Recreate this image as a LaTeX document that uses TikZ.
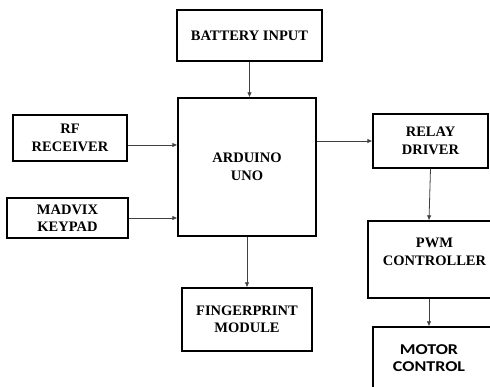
\documentclass[tikz,border=0pt]{standalone}
\usepackage{fontspec}
\setmainfont{Liberation Serif}
\newfontfamily\boxfont{Liberation Serif}
\newfontfamily\motorfont{Carlito}[FakeStretch=1.2]
\usetikzlibrary{arrows.meta}

\begin{document}
\begin{tikzpicture}[x=1pt, y=-1pt,
    box/.style={draw, line width=1.3pt, inner sep=0pt, align=center,
      font=\fontsize{14.5}{17.5}\selectfont\boxfont\bfseries},
    link/.style={draw=black!75, line width=0.8pt, -{Latex[length=5pt,width=4.5pt]}}]
  \useasboundingbox (0,0) rectangle (490,387);
  \clip (0,0) rectangle (490,387);

  \node[box, minimum width=145pt, minimum height=51pt] (battery) at (249.5,35.5) {BATTERY INPUT};
  \node[box, minimum width=138pt, minimum height=138pt] (arduino) at (247,167) {ARDUINO\\UNO};
  \node[box, minimum width=114pt, minimum height=46pt] (rf) at (70,138) {RF\\RECEIVER};
  \node[box, minimum width=121pt, minimum height=40pt] (madvix) at (67.5,218) {MADVIX\\KEYPAD};
  \node[box, minimum width=115pt, minimum height=54pt] (relay) at (430.5,141) {RELAY\\DRIVER};
  \node[box, minimum width=130pt, minimum height=63pt] (finger) at (247,319.5) {FINGERPRINT\\MODULE};
  \node[box, minimum width=132pt, minimum height=77pt] (pwm) at (434,259.5) {};
  \node[box, draw=none] (pwm text) at (434.5,252) {PWM\\CONTROLLER};
  \node[box, minimum width=127pt, minimum height=66pt] (motor) at (436.5,360) {};
  \node[box, draw=none, font=\fontsize{15}{17.5}\selectfont\motorfont\bfseries] (motor text) at (429,358) {MOTOR\\CONTROL};

  \draw[link] (battery.south) -- (battery.south |- arduino.north);
  \draw[link] ([yshift=-7pt]rf.east) -- ([yshift=-7pt]rf.east -| arduino.west);
  \draw[link] (madvix.east) -- (madvix.east -| arduino.west);
  \draw[link] (arduino.east |- relay.west) -- (relay.west);
  \draw[link] (arduino.south) -- (arduino.south |- finger.north);
  \draw[link] (relay.south) -- ([xshift=-5pt]pwm.north);
  \draw[link] ([xshift=-5pt]pwm.south) -- ([xshift=-5pt]pwm.south |- motor.north);
\end{tikzpicture}
\end{document}
